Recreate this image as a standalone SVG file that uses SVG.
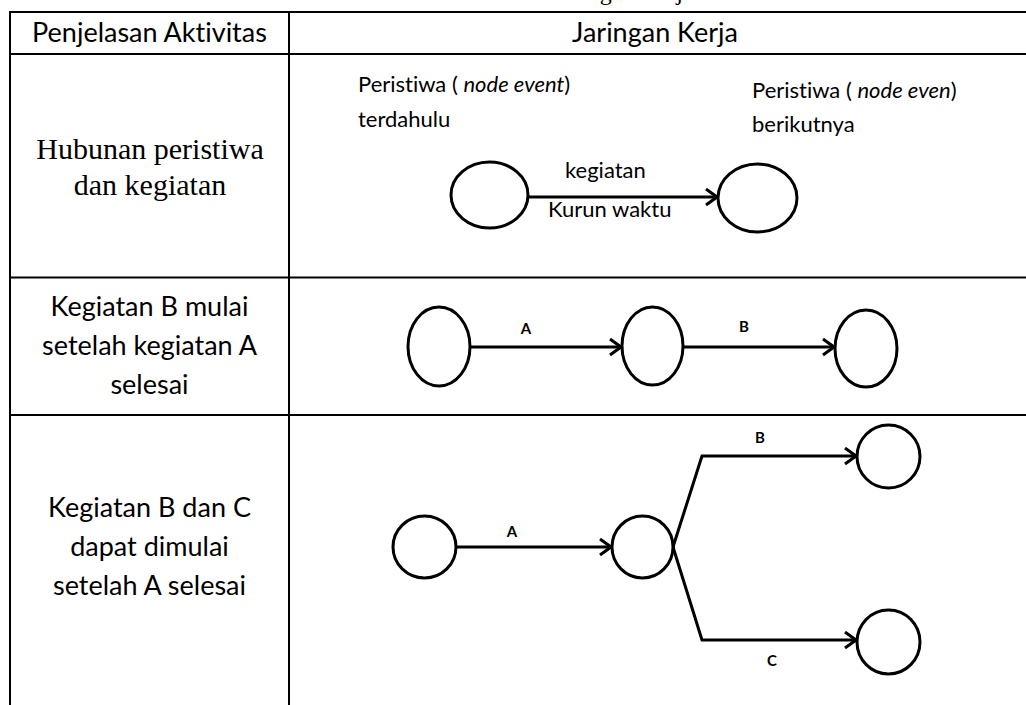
<svg xmlns="http://www.w3.org/2000/svg" width="1026" height="705" viewBox="0 0 1026 705">
<style>
.cal{font-family:Lato,"Liberation Sans",sans-serif;fill:#000;font-variant-ligatures:none}
.hd{font-size:27px}
.lbl{font-size:22px}
.sm{font-size:15px;font-weight:bold}
.ser{font-family:"Liberation Serif","Times New Roman",serif;fill:#000}
.node{fill:#fff;stroke:#000;stroke-width:3}
.edge{fill:none;stroke:#000;stroke-width:3}
.grid{stroke:#000;stroke-width:2;fill:none}
</style>
<defs>
<marker id="arr" markerWidth="14" markerHeight="20" refX="12" refY="9" orient="auto" markerUnits="userSpaceOnUse">
<path d="M1,1 L12,9 L1,17" fill="none" stroke="#000" stroke-width="3"/>
</marker>
</defs>
<rect width="1026" height="705" fill="#fff"/>
<text class="ser" x="553" y="0" font-size="24">Jaringan Kerja</text>
<g id="table">
<line class="grid" x1="9" y1="12" x2="1026" y2="12"/>
<line class="grid" x1="9" y1="54" x2="1026" y2="54"/>
<line class="grid" x1="9" y1="277.5" x2="1026" y2="277.5"/>
<line class="grid" x1="9" y1="415" x2="1026" y2="415"/>
<line class="grid" x1="10" y1="11" x2="10" y2="705"/>
<line class="grid" x1="289" y1="11" x2="289" y2="705"/>
</g>
<g id="header">
<text class="cal hd" x="149.5" y="42" text-anchor="middle">Penjelasan Aktivitas</text>
<text class="cal hd" x="655" y="42" text-anchor="middle">Jaringan Kerja</text>
</g>
<g id="row-labels">
<text class="ser" font-size="30" text-anchor="middle" x="150" y="159">Hubunan peristiwa</text>
<text class="ser" font-size="30" text-anchor="middle" x="150" y="195">dan kegiatan</text>
<text class="cal hd" text-anchor="middle" x="149.5" y="316">Kegiatan B mulai</text>
<text class="cal hd" text-anchor="middle" x="149.5" y="355">setelah kegiatan A</text>
<text class="cal hd" text-anchor="middle" x="149.5" y="394">selesai</text>
<text class="cal hd" text-anchor="middle" x="149.5" y="517">Kegiatan B dan C</text>
<text class="cal hd" text-anchor="middle" x="149.5" y="556">dapat dimulai</text>
<text class="cal hd" text-anchor="middle" x="149.5" y="595">setelah A selesai</text>
</g>
<g id="connectors">
<line class="edge" x1="528" y1="197" x2="717" y2="197" marker-end="url(#arr)"/>
<line class="edge" x1="470" y1="347" x2="621" y2="347" marker-end="url(#arr)"/>
<line class="edge" x1="683" y1="347" x2="834" y2="347" marker-end="url(#arr)"/>
<line class="edge" x1="456" y1="547" x2="611" y2="547" marker-end="url(#arr)"/>
<path class="edge" d="M673,547 L702,456 L856,456" marker-end="url(#arr)"/>
<path class="edge" d="M673,547 L702,640 L856,640" marker-end="url(#arr)"/>
</g>
<g id="edge-labels">
<text class="cal lbl" x="565" y="178">kegiatan</text>
<text class="cal lbl" x="548" y="217">Kurun waktu</text>
<text class="cal sm" x="526" y="334" text-anchor="middle">A</text>
<text class="cal sm" x="744" y="332" text-anchor="middle">B</text>
<text class="cal sm" x="512" y="537" text-anchor="middle">A</text>
<text class="cal sm" x="760" y="443" text-anchor="middle">B</text>
<text class="cal sm" x="772" y="666" text-anchor="middle">C</text>
</g>
<g id="n-prev">
<ellipse class="node" cx="489.5" cy="195" rx="38.5" ry="33"/>
<text class="cal lbl" x="358" y="92">Peristiwa ( <tspan font-style="italic">node event</tspan>)</text>
<text class="cal lbl" x="358" y="127">terdahulu</text>
</g>
<g id="n-next">
<ellipse class="node" cx="757.5" cy="198" rx="39.5" ry="34"/>
<text class="cal lbl" x="752" y="98">Peristiwa ( <tspan font-style="italic">node even</tspan>)</text>
<text class="cal lbl" x="752" y="132">berikutnya</text>
</g>
<g id="r2-n1"><ellipse class="node" cx="439" cy="346.5" rx="31" ry="39.5"/></g>
<g id="r2-n2"><ellipse class="node" cx="652.5" cy="346" rx="30.5" ry="39"/></g>
<g id="r2-n3"><ellipse class="node" cx="866" cy="348.5" rx="31" ry="38.5"/></g>
<g id="r3-n1"><ellipse class="node" cx="424.5" cy="547" rx="31.5" ry="31"/></g>
<g id="r3-n2"><ellipse class="node" cx="642.5" cy="547" rx="30.5" ry="31"/></g>
<g id="r3-n3"><ellipse class="node" cx="888.5" cy="456.5" rx="31.5" ry="31.5"/></g>
<g id="r3-n4"><ellipse class="node" cx="888.5" cy="642" rx="31.5" ry="32"/></g>
</svg>
